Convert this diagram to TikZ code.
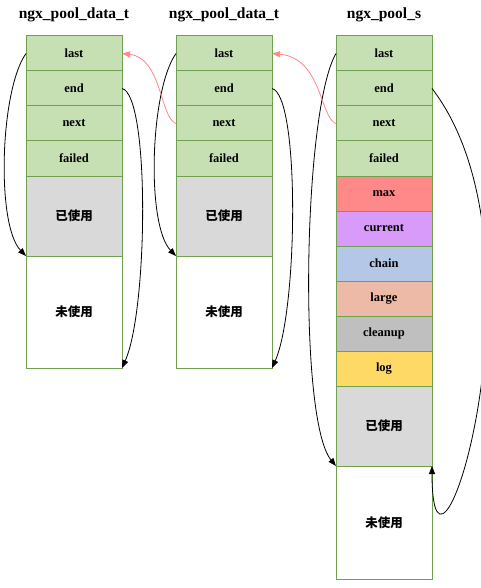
\documentclass[tikz,border=0pt]{standalone}
\usepackage{fontspec}
\setmainfont{Liberation Serif}
\newfontfamily\cjk{Noto Sans CJK SC}
\usetikzlibrary{arrows.meta}
\definecolor{cellgreen}{RGB}{198,224,180}
\definecolor{cellstroke}{RGB}{112,160,80}
\definecolor{usedgray}{RGB}{217,217,217}
\definecolor{maxred}{RGB}{255,136,136}
\definecolor{curviolet}{RGB}{216,155,250}
\definecolor{chainblue}{RGB}{180,199,231}
\definecolor{largepeach}{RGB}{236,186,166}
\definecolor{cleangray}{RGB}{191,191,191}
\definecolor{logyellow}{RGB}{255,217,102}
\definecolor{linkpink}{RGB}{255,136,136}
\tikzset{
  cell/.style={draw=cellstroke, line width=1pt, fill=cellgreen, anchor=north west,
    minimum width=96pt, minimum height=35pt, inner sep=0pt, outer sep=0pt,
    font=\fontsize{12.5}{14}\selectfont\bfseries},
  usedcell/.style={cell, fill=usedgray, minimum height=80pt, font=\fontsize{12.5}{14}\selectfont\cjk\bfseries},
  freecell/.style={cell, fill=white, minimum height=112pt, font=\fontsize{12.5}{14}\selectfont\cjk\bfseries},
  title/.style={font=\fontsize{15.5}{17}\selectfont\bfseries, inner sep=0pt},
  ptr/.style={draw=black, line width=0.8pt, -{Triangle[length=8pt,width=6pt]}},
  link/.style={draw=linkpink, line width=0.8pt, -{Triangle[length=8pt,width=6pt]}}
}
\begin{document}
\begin{tikzpicture}[x=1pt,y=-1pt]
\useasboundingbox (0,0) rectangle (481,588);

% titles
\node[title] (t1) at (74,15) {ngx\_pool\_data\_t};
\node[title] (t2) at (224,15) {ngx\_pool\_data\_t};
\node[title] (t3) at (384,15) {ngx\_pool\_s};

% first data block
\node[cell] (a1) at (26,36) {last};
\node[cell] (a2) at (26,71) {end};
\node[cell] (a3) at (26,106) {next};
\node[cell] (a4) at (26,141) {failed};
\node[usedcell] (au) at (26,176) {已使用};
\node[freecell] (af) at (26,256) {未使用};

% second data block
\node[cell] (b1) at (176,36) {last};
\node[cell] (b2) at (176,71) {end};
\node[cell] (b3) at (176,106) {next};
\node[cell] (b4) at (176,141) {failed};
\node[usedcell] (bu) at (176,176) {已使用};
\node[freecell] (bf) at (176,256) {未使用};

% pool head
\node[cell] (c1) at (336,36) {last};
\node[cell] (c2) at (336,71) {end};
\node[cell] (c3) at (336,106) {next};
\node[cell] (c4) at (336,141) {failed};
\node[cell, fill=maxred] (c5) at (336,176) {max};
\node[cell, fill=curviolet] (c6) at (336,211) {current};
\node[cell, fill=chainblue] (c7) at (336,246) {chain};
\node[cell, fill=largepeach] (c8) at (336,281) {large};
\node[cell, fill=cleangray] (c9) at (336,316) {cleanup};
\node[cell, fill=logyellow] (c10) at (336,351) {log};
\node[usedcell] (cu) at (336,386) {已使用};
\node[freecell, minimum height=113pt] (cf) at (336,466) {未使用};

% last -> end of used area
\draw[ptr] (a1.west) .. controls (0,90) and (-4,225) .. (au.south west);
\draw[ptr] (b1.west) .. controls (150,90) and (146,225) .. (bu.south west);
\draw[ptr] (c1.west) .. controls (303,110) and (298,420) .. (cu.south west);

% end -> end of block
\draw[ptr] (a2.east) .. controls (150,95) and (148,310) .. (af.south east);
\draw[ptr] (b2.east) .. controls (300,95) and (298,310) .. (bf.south east);
\draw[ptr] (c2.east) .. controls (556,250) and (432,640) .. (cu.south east);

% next -> previous block
\draw[link] (b3.west) .. controls (160,118) and (162,58) .. (a1.east);
\draw[link] (c3.west) .. controls (320,118) and (322,58) .. (b1.east);
\end{tikzpicture}
\end{document}
